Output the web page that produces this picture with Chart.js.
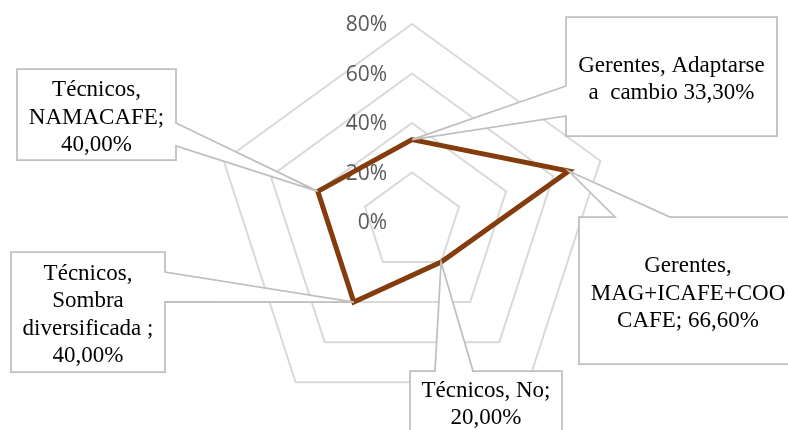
<!DOCTYPE html>
<html lang="es">
  <head>
    <meta charset="UTF-8" />
    <title>Radar - Gerentes y Técnicos</title>
    <script src="https://cdn.jsdelivr.net/npm/chart.js"></script>
    <style>
      body {
        margin: 0;
        background: #ffffff;
      }
      #wrap {
        width: 788px;
        height: 430px;
      }
    </style>
  </head>
  <body>
    <div id="wrap"><canvas id="radar" width="788" height="430"></canvas></div>

    <script>
      // data
      const categories = [
        "Gerentes, Adaptarse a cambio",
        "Gerentes, MAG+ICAFE+COOCAFE",
        "Técnicos, No",
        "Técnicos, Sombra diversificada",
        "Técnicos, NAMACAFE",
      ];
      const values = [33.3, 66.6, 20, 40, 40];
      const tickValues = [0, 20, 40, 60, 80];
      const tickLabels = ["0%", "20%", "40%", "60%", "80%"];
      const calloutText = [
        ["Gerentes, Adaptarse", "a  cambio 33,30%"],
        ["Gerentes,", "MAG+ICAFE+COO", "CAFE; 66,60%"],
        ["Técnicos, No;", "20,00%"],
        ["Técnicos,", "Sombra", "diversificada ;", "40,00%"],
        ["Técnicos,", "NAMACAFE;", "40,00%"],
      ];

      // callout box placement (pixels), wedge side and wedge base
      const calloutBoxes = [
        { x1: 566, y1: 17, x2: 777, y2: 136, side: "left", a: 86, c: 116 },
        { x1: 579, y1: 217, x2: 800, y2: 364, side: "top", a: 615, c: 670 },
        { x1: 410, y1: 371, x2: 562, y2: 432, side: "top", a: 435, c: 473 },
        { x1: 11, y1: 252, x2: 165, y2: 372, side: "right", a: 272, c: 302 },
        { x1: 17, y1: 69, x2: 176, y2: 160, side: "right", a: 123, c: 146 },
      ];

      const tickLabelPlugin = {
        id: "tickLabels",
        beforeDatasetsDraw(chart) {
          const scale = chart.scales.r;
          const ctx = chart.ctx;
          ctx.save();
          ctx.font = "21px 'Open Sans'";
          ctx.fillStyle = "#595959";
          ctx.textAlign = "right";
          ctx.textBaseline = "middle";
          tickValues.forEach((v, i) => {
            const d = scale.getDistanceFromCenterForValue(v);
            ctx.fillText(tickLabels[i], scale.xCenter - 25, scale.yCenter - d + 1.5);
          });
          ctx.restore();
        },
      };

      function calloutPath(ctx, b, tip) {
        ctx.beginPath();
        ctx.moveTo(b.x1, b.y1);
        if (b.side === "top") {
          ctx.lineTo(b.a, b.y1);
          ctx.lineTo(tip.x, tip.y);
          ctx.lineTo(b.c, b.y1);
        }
        ctx.lineTo(b.x2, b.y1);
        if (b.side === "right") {
          ctx.lineTo(b.x2, b.a);
          ctx.lineTo(tip.x, tip.y);
          ctx.lineTo(b.x2, b.c);
        }
        ctx.lineTo(b.x2, b.y2);
        ctx.lineTo(b.x1, b.y2);
        if (b.side === "left") {
          ctx.lineTo(b.x1, b.c);
          ctx.lineTo(tip.x, tip.y);
          ctx.lineTo(b.x1, b.a);
        }
        ctx.closePath();
      }

      const calloutPlugin = {
        id: "callouts",
        afterDatasetsDraw(chart) {
          const ctx = chart.ctx;
          const points = chart.getDatasetMeta(0).data;
          ctx.save();
          calloutBoxes.forEach((b, i) => {
            const tip = { x: points[i].x, y: points[i].y };
            calloutPath(ctx, b, tip);
            ctx.fillStyle = "#ffffff";
            ctx.fill();
            ctx.strokeStyle = "#bfbfbf";
            ctx.lineWidth = 1.75;
            ctx.lineJoin = "miter";
            ctx.stroke();

            const lines = calloutText[i];
            const lh = 27.6;
            const cx = (b.x1 + Math.min(b.x2, 797)) / 2;
            const cy = (b.y1 + b.y2) / 2 + 3;
            ctx.fillStyle = "#000000";
            ctx.font = "23px 'Liberation Serif'";
            ctx.textAlign = "center";
            ctx.textBaseline = "middle";
            lines.forEach((t, k) => {
              ctx.fillText(t, cx, cy + (k - (lines.length - 1) / 2) * lh);
            });
          });
          ctx.restore();
        },
      };

      new Chart(document.getElementById("radar"), {
        type: "radar",
        data: {
          labels: categories,
          datasets: [
            {
              label: "Porcentaje",
              data: values,
              borderColor: "#843c0c",
              borderWidth: 5,
              borderJoinStyle: "miter",
              fill: false,
              pointRadius: 0,
              pointHoverRadius: 0,
              tension: 0,
            },
          ],
        },
        options: {
          responsive: false,
          animation: false,
          layout: {
            padding: { top: 24, bottom: 10, left: 36, right: 0 },
          },
          plugins: {
            legend: { display: false },
            tooltip: { enabled: false },
          },
          scales: {
            r: {
              min: 0,
              max: 80,
              ticks: { display: false, stepSize: 20 },
              pointLabels: { display: false },
              angleLines: { display: false },
              grid: { color: "#d9d9d9", lineWidth: 2 },
            },
          },
        },
        plugins: [tickLabelPlugin, calloutPlugin],
      });
    </script>
  </body>
</html>
